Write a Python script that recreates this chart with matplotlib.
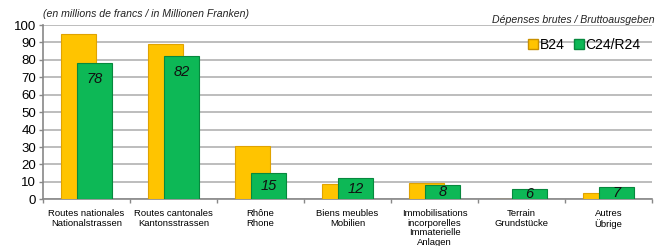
import matplotlib
matplotlib.use("Agg")
import matplotlib.pyplot as plt
from matplotlib.lines import Line2D
import numpy as np

plt.rcParams['font.family'] = ['Liberation Sans', 'DejaVu Sans']

categories = ["Routes nationales\nNationalstrassen",
              "Routes cantonales\nKantonsstrassen",
              "Rhône\nRhone",
              "Biens meubles\nMobilien",
              "Immobilisations\nincorporelles\nImmaterielle\nAnlagen",
              "Terrain\nGrundstücke",
              "Autres\nÜbrige"]
b24 = [95, 89, 30.5, 8.5, 9.2, 0.3, 3.8]
c24 = [78, 82, 15, 12, 8, 6, 7]
c24_labels = ["78", "82", "15", "12", "8", "6", "7"]
yticks = list(range(0, 101, 10))

fig = plt.figure(figsize=(6.56, 2.46), dpi=100)
ax = fig.add_axes([43/656, 1-199.3/246, 609/656, 174.3/246])

x = np.arange(len(categories))
w = 0.40
off = 0.092
ax.bar(x - off, b24, width=w, color='#FFC400', edgecolor='#E0A300', linewidth=0.8, zorder=3)
ax.bar(x + off, c24, width=w, color='#0DB856', edgecolor='#07883E', linewidth=0.8, zorder=4)

for xi, v, lab in zip(x, c24, c24_labels):
    ax.text(xi + off, max(v / 2, v - 9), lab, ha='center', va='center',
            fontsize=10.5, style='italic', color='#111111', zorder=5)

ax.set_xlim(-0.5, len(categories) - 0.5)
ax.set_ylim(0, 100)
ax.set_yticks(yticks)
ax.tick_params(axis='y', labelsize=9.5, length=3, width=1, color='#888888', pad=2)
ax.yaxis.grid(True, color='#BDBDBD', linewidth=1.4, zorder=0)
ax.set_axisbelow(True)

ax.set_xticks(np.arange(len(categories) + 1) - 0.5)
ax.set_xticklabels([])
ax.tick_params(axis='x', which='major', length=3, width=1, color='#888888')
ax.set_xticks(x, minor=True)
ax.set_xticklabels(categories, minor=True, fontsize=6.8, linespacing=1.1)
ax.tick_params(axis='x', which='minor', length=0, pad=7)

for s in ['top', 'right']:
    ax.spines[s].set_visible(False)
for s in ['left', 'bottom']:
    ax.spines[s].set_color('#888888')
    ax.spines[s].set_linewidth(1.2)

handles = [Line2D([], [], marker='s', linestyle='none', markersize=6.5,
                  markerfacecolor='#FFC400', markeredgecolor='#C89000'),
           Line2D([], [], marker='s', linestyle='none', markersize=6.5,
                  markerfacecolor='#0DB856', markeredgecolor='#07883E')]
ax.legend(handles, ['B24', 'C24/R24'], loc='center right', bbox_to_anchor=(0.995, 0.885),
          ncol=2, frameon=False, fontsize=10, handlelength=0.6, handletextpad=0.2,
          columnspacing=0.7, borderpad=0.1)

fig.text(43/656, 1-14/246, "(en millions de francs / in Millionen Franken)",
         fontsize=7.6, style='italic', ha='left', va='center', color='#222222')
fig.text(655/656, 1-20/246, "Dépenses brutes / Bruttoausgeben",
         fontsize=7.6, style='italic', ha='right', va='center', color='#222222')

fig.savefig("out.png", dpi=100)
